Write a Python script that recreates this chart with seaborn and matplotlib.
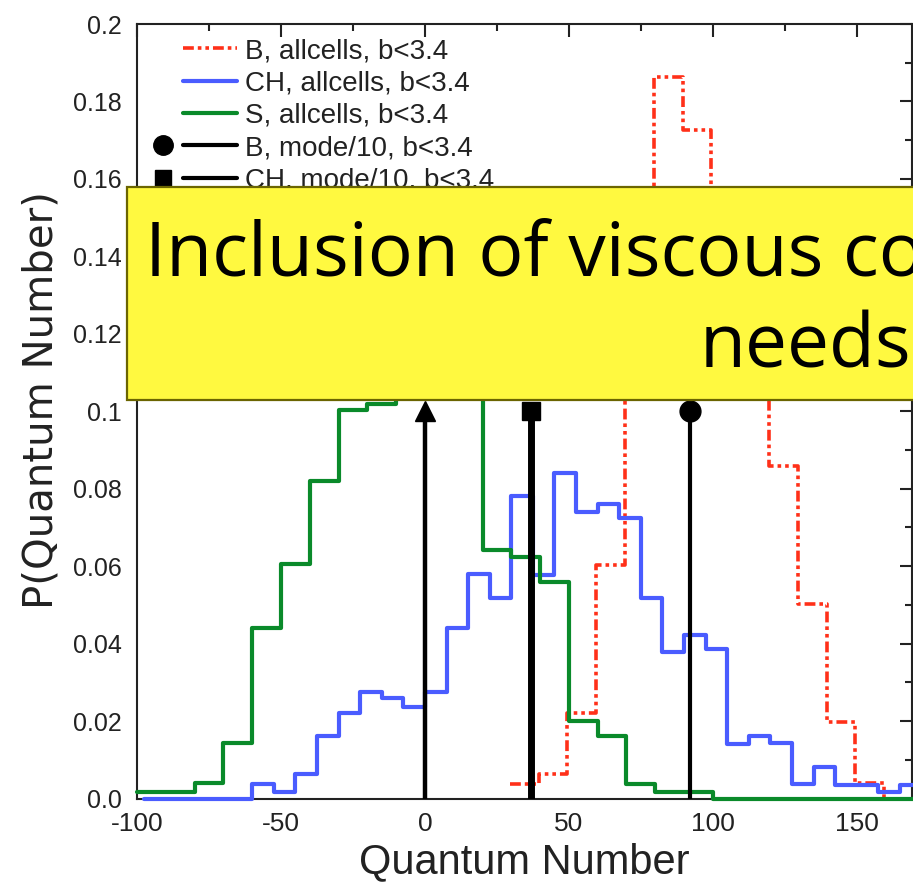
import matplotlib
matplotlib.use("Agg")
import matplotlib.pyplot as plt
import numpy as np
import pandas as pd
import seaborn as sns
from matplotlib.lines import Line2D
from matplotlib.patches import Rectangle
from matplotlib.legend_handler import HandlerTuple
from matplotlib.ticker import MultipleLocator

# ---------------------------------------------------------------- data
# Baryon number, all cells, b<3.4 (bin edges, probability per bin)
b_edges = [29.5, 39.5, 49.5, 59.5, 69.5, 79.5, 89.5, 99.5, 109.5, 119.5,
           129.5, 139.5, 149.5, 159.5, 169.5]
b_prob = [0.0037, 0.0063, 0.0220, 0.0603, 0.1300, 0.1864, 0.1726, 0.1450,
          0.1120, 0.0859, 0.0502, 0.0198, 0.0040, 0.0]

# Charge, all cells, b<3.4
ch_edges = [-97.5, -90, -82.5, -75, -67.5, -60, -52.5, -45, -37.5, -30,
            -22.5, -15, -7.5, 0, 7.5, 15, 22.5, 30, 37.5, 45, 52.5, 60,
            67.5, 75, 82.5, 90, 97.5, 105, 112.5, 120, 127.5, 135, 142.5,
            150, 157.5, 165, 172.5]
ch_prob = [0.0, 0.0, 0.0, 0.0, 0.0, 0.0037, 0.0018, 0.0063, 0.0161, 0.0220,
           0.0276, 0.0259, 0.0237, 0.0276, 0.0440, 0.0579, 0.0517, 0.0781,
           0.0577, 0.0840, 0.0741, 0.0761, 0.0724, 0.0517, 0.0379, 0.0422,
           0.0385, 0.0141, 0.0161, 0.0143, 0.0037, 0.0082, 0.0035, 0.0035,
           0.0016, 0.0035]

# Strangeness, all cells, b<3.4
s_edges = [-100, -90, -80, -70, -60, -50, -40, -30, -20, -10, 0, 10, 20, 30,
           40, 50, 60, 70, 80, 90, 100, 110, 120, 130, 140, 150, 160, 170]
s_prob = [0.0017, 0.0017, 0.0039, 0.0143, 0.0440, 0.0605, 0.0820, 0.1002,
          0.1020, 0.1180, 0.1250, 0.1130, 0.0642, 0.0624, 0.0560, 0.0201,
          0.0161, 0.0037, 0.0018, 0.0018, 0.0, 0.0, 0.0, 0.0, 0.0, 0.0, 0.0]

# mode/10 of each quantum number
mode_labels = ["B, mode/10, b<3.4", "CH, mode/10, b<3.4", "S, mode/10, b<3.4"]
mode_values = [92, 37, 0]
mode_heights = [0.1, 0.1, 0.1]

hist_labels = ["B, allcells, b<3.4", "CH, allcells, b<3.4", "S, allcells, b<3.4"]

xtick_values = [-100, -50, 0, 50, 100, 150]
xtick_labels = ["-100", "-50", "0", "50", "100", "150"]
ytick_values = [0.0, 0.02, 0.04, 0.06, 0.08, 0.1, 0.12, 0.14, 0.16, 0.18, 0.2]
ytick_labels = ["0.0", "0.02", "0.04", "0.06", "0.08", "0.1", "0.12", "0.14",
                "0.16", "0.18", "0.2"]

banner_line1 = "Inclusion of viscous corrections"
banner_line2 = "needs"

# ---------------------------------------------------------------- style
sns.set_theme(style="white")
plt.rcParams["font.family"] = ["Liberation Sans", "DejaVu Sans"]

W, H = 913, 882
fig = plt.figure(figsize=(W / 100, H / 100), dpi=100)
ax = fig.add_axes([137 / W, 1 - 798.5 / H, 774.5 / W, 774.5 / H])

red, blue, green = "#ff3019", "#4a5cff", "#0a8a2a"
red_dash = (0, (3, 1.1, 1, 1.1, 1, 1.1))
styles = [
    dict(color=red, linewidth=2.6, linestyle=red_dash),
    dict(color=blue, linewidth=3.0, linestyle="-"),
    dict(color=green, linewidth=3.0, linestyle="-"),
]

for edges, prob, st in zip([b_edges, ch_edges, s_edges],
                           [b_prob, ch_prob, s_prob], styles):
    e = np.asarray(edges, dtype=float)
    table = pd.DataFrame({"center": (e[:-1] + e[1:]) / 2, "prob": prob})
    sns.histplot(data=table, x="center", weights="prob", bins=list(edges),
                 element="step", fill=False, ax=ax, zorder=3, clip_on=False,
                 **st)

mode_markers = ["o", "s", "^"]
mode_msize = [15, 13, 14]
mode_lw = [3.0, 5.0, 3.2]
for v, h, m, ms, lw in zip(mode_values, mode_heights, mode_markers,
                           mode_msize, mode_lw):
    ax.plot([v, v], [0, h], color="black", lw=lw, marker=m, ms=ms,
            markevery=[1], solid_capstyle="butt", zorder=4)

ax.set_xlim(-100, 169)
ax.set_ylim(0, 0.2)

ax.set_xticks(xtick_values)
ax.set_xticklabels(xtick_labels, fontsize=19, color="#222222")
ax.set_yticks(ytick_values)
ax.set_yticklabels(ytick_labels, fontsize=18, color="#222222")
ax.xaxis.set_minor_locator(MultipleLocator(25))
ax.yaxis.set_minor_locator(MultipleLocator(0.01))
ax.tick_params(which="both", direction="in", top=True, right=True,
               color="#222222", width=1.5)
ax.tick_params(which="major", length=9)
ax.tick_params(which="minor", length=5)
ax.tick_params(axis="y", which="major", pad=11)
ax.tick_params(axis="x", which="major", pad=10)
for sp in ax.spines.values():
    sp.set_visible(True)
    sp.set_color("#222222")
    sp.set_linewidth(1.5)

ax.set_xlabel("Quantum Number", fontsize=30, color="#222222")
ax.set_ylabel("P(Quantum Number)", fontsize=29, color="#222222",
              family=["DejaVu Sans"])
ax.xaxis.set_label_coords(0.5, -0.056)
ax.yaxis.set_label_coords(-0.097, 0.515)

# legend: marker slot on the left, line sample on the right
# (the strangeness mode entry sits under the banner, so only the first
#  five rows are listed)
empty = Line2D([], [], linestyle="none")
handles = [(empty, Line2D([], [], **st)) for st in styles]
for m, ms in zip(mode_markers[:2], [14, 12]):
    handles.append((Line2D([], [], linestyle="none", marker=m, ms=ms,
                           color="black"),
                    Line2D([], [], color="black", lw=3.0)))
labels = hist_labels + mode_labels[:2]
ax.legend(handles, labels,
          handler_map={tuple: HandlerTuple(ndivide=None, pad=-0.25)},
          loc="upper left", bbox_to_anchor=(136 / W, 1 - 38 / H),
          bbox_transform=fig.transFigure, frameon=False, fontsize=20,
          handlelength=3.63, handletextpad=0.29, labelspacing=0.23,
          borderpad=0, borderaxespad=0, numpoints=1, labelcolor="#222222")

# yellow banner laid over the plot
fig.patches.append(Rectangle((127 / W, 1 - 400 / H), 1.0, 213 / H,
                             transform=fig.transFigure, facecolor="#fff940",
                             edgecolor="#6b6500", linewidth=1.6, zorder=10))
fig.text(145 / W, 1 - 275 / H, banner_line1, fontsize=54, family="Open Sans",
         va="baseline", ha="left", color="black", zorder=11)
fig.text(700 / W, 1 - 368 / H, banner_line2, fontsize=54, family="Open Sans",
         va="baseline", ha="left", color="black", zorder=11)

fig.savefig("out.png", dpi=100)
